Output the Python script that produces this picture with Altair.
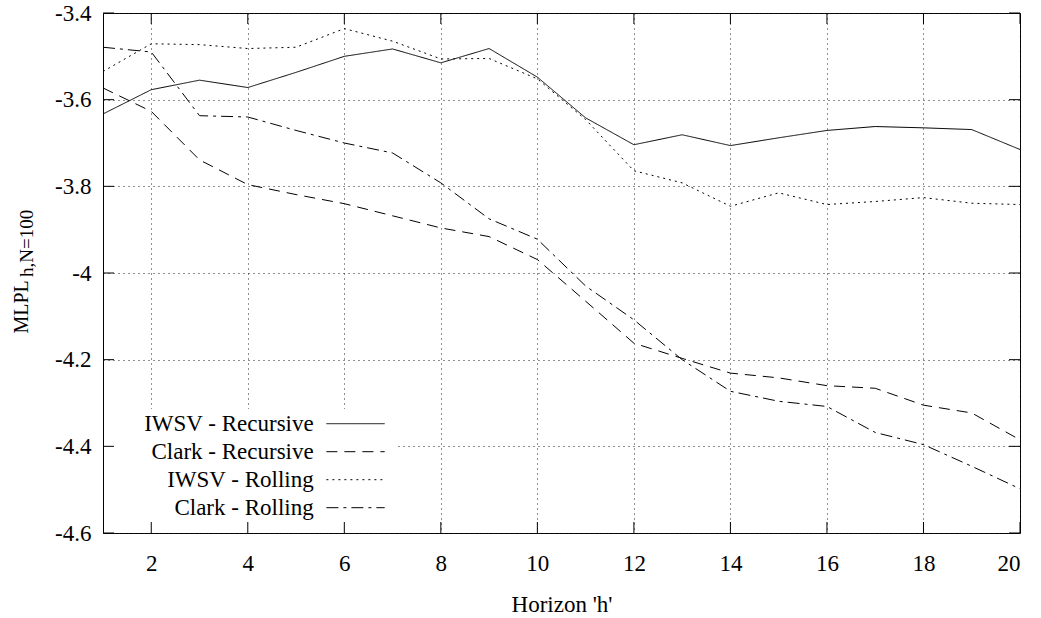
import altair as alt
import pandas as pd

# ---- data ----
horizon = list(range(1, 21))
iwsv_recursive = [-3.633, -3.577, -3.555, -3.572, -3.537, -3.500, -3.483, -3.515, -3.482, -3.548,
                  -3.642, -3.704, -3.681, -3.706, -3.688, -3.671, -3.662, -3.665, -3.669, -3.715]
clark_recursive = [-3.573, -3.627, -3.739, -3.796, -3.819, -3.840, -3.868, -3.896, -3.916, -3.969,
                   -4.065, -4.162, -4.197, -4.231, -4.242, -4.260, -4.266, -4.305, -4.323, -4.385]
iwsv_rolling = [-3.535, -3.471, -3.473, -3.482, -3.479, -3.436, -3.465, -3.506, -3.505, -3.552,
                -3.646, -3.764, -3.792, -3.846, -3.815, -3.842, -3.835, -3.826, -3.839, -3.842]
clark_rolling = [-3.479, -3.490, -3.637, -3.640, -3.671, -3.700, -3.723, -3.792, -3.875, -3.922,
                 -4.030, -4.108, -4.200, -4.273, -4.296, -4.308, -4.368, -4.396, -4.446, -4.498]

series_names = ["IWSV - Recursive", "Clark - Recursive", "IWSV - Rolling", "Clark - Rolling"]
series_values = [iwsv_recursive, clark_recursive, iwsv_rolling, clark_rolling]

x_ticks = [2, 4, 6, 8, 10, 12, 14, 16, 18, 20]
y_ticks = [-4.6, -4.4, -4.2, -4.0, -3.8, -3.6, -3.4]

# ---- tables ----
rows = []
for name, vals in zip(series_names, series_values):
    for h, v in zip(horizon, vals):
        rows.append({"series": name, "h": h, "value": v})
df = pd.DataFrame(rows)
legend_df = pd.DataFrame({"series": series_names, "row": list(range(len(series_names)))})
xt_df = pd.DataFrame({"xt": x_ticks})
yt_df = pd.DataFrame({"yt": y_ticks})

W, H = 917, 520
FONT = "'Liberation Serif', 'Times New Roman', Times, 'DejaVu Serif', serif"
TICK = 11

dash_scale = alt.Scale(domain=series_names, range=[[1, 0], [11, 7], [2, 4], [12, 5, 3, 5]])
x_scale = alt.Scale(domain=[1, 20], nice=False, zero=False)
y_scale = alt.Scale(domain=[-4.6, -3.4], nice=False, zero=False)

x_axis = alt.Axis(values=x_ticks, grid=True, ticks=False, tickSize=0, domain=False,
                  labelFont=FONT, labelFontSize=23, labelColor="black", labelPadding=19,
                  title="Horizon 'h'", titleFont=FONT, titleFontSize=23, titleFontWeight="normal",
                  titleColor="black", titleX=W / 2, titleY=78, titleBaseline="alphabetic",
                  titleAlign="center", gridColor="#222", gridDash=[1, 4], gridWidth=1)
y_axis = alt.Axis(values=y_ticks, grid=True, ticks=False, tickSize=0, domain=False,
                  labelFont=FONT, labelFontSize=23, labelColor="black", labelPadding=12,
                  labelExpr="toString(datum.value)",
                  title="MLPL", titleFont=FONT, titleFontSize=20, titleFontWeight="normal",
                  titleColor="black", titleAngle=270, titleX=-76, titleY=320,
                  titleAlign="left", titleBaseline="alphabetic",
                  gridColor="#222", gridDash=[1, 4], gridWidth=1)

base = alt.Chart(df)

# white box behind the key (hides grid)
key_box = alt.Chart(legend_df).mark_rect(fill="white").encode(
    x=alt.value(1), x2=alt.value(292), y=alt.value(396), y2=alt.value(H - 1)
)

lines = base.mark_line(color="black", strokeWidth=1).encode(
    x=alt.X("h:Q", scale=x_scale, axis=x_axis),
    y=alt.Y("value:Q", scale=y_scale, axis=y_axis),
    strokeDash=alt.StrokeDash("series:N", scale=dash_scale, legend=None),
    detail="series:N",
)

# inward ticks on all four sides
xt_bottom = alt.Chart(xt_df).mark_rule(color="black", strokeWidth=1).encode(
    x=alt.X("xt:Q", scale=x_scale), y=alt.value(H - TICK), y2=alt.value(H))
xt_top = alt.Chart(xt_df).mark_rule(color="black", strokeWidth=1).encode(
    x=alt.X("xt:Q", scale=x_scale), y=alt.value(0), y2=alt.value(TICK))
yt_left = alt.Chart(yt_df).mark_rule(color="black", strokeWidth=1).encode(
    y=alt.Y("yt:Q", scale=y_scale), x=alt.value(0), x2=alt.value(TICK))
yt_right = alt.Chart(yt_df).mark_rule(color="black", strokeWidth=1).encode(
    y=alt.Y("yt:Q", scale=y_scale), x=alt.value(W - TICK), x2=alt.value(W))

# key (labels left of samples, gnuplot style)
key_text = alt.Chart(legend_df).transform_calculate(
    ty="417.5 + 28 * datum.row"
).mark_text(align="right", baseline="alphabetic", font=FONT, fontSize=23, color="black").encode(
    x=alt.value(210.7), y=alt.Y("ty:Q", scale=None, axis=None), text="series:N")
key_lines = alt.Chart(legend_df).transform_calculate(
    ly="410.7 + 28 * datum.row"
).mark_rule(color="black", strokeWidth=1).encode(
    x=alt.value(223.4), x2=alt.value(281.7), y=alt.Y("ly:Q", scale=None, axis=None),
    strokeDash=alt.StrokeDash("series:N", scale=dash_scale, legend=None))

# subscript of the y title
y_sub = alt.Chart(legend_df.head(1)).mark_text(
    text="h,N=100", angle=270, align="left", baseline="alphabetic",
    font=FONT, fontSize=19, color="black"
).encode(x=alt.value(-70), y=alt.value(264))

chart = alt.layer(
    key_box, lines, xt_bottom, xt_top, yt_left, yt_right, key_text, key_lines, y_sub
).properties(
    width=W, height=H,
    autosize=alt.AutoSizeParams(type="none"),
    padding={"left": 103, "top": 13, "right": 21, "bottom": 85},
    background="white",
).configure_view(stroke="black", strokeWidth=1)

chart.save("out.html", embed_options={"renderer": "svg", "actions": False})
